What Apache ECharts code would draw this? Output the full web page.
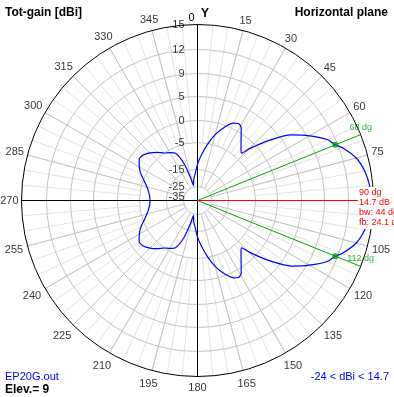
<!DOCTYPE html>
<html><head><meta charset="utf-8">
<script src="https://cdn.jsdelivr.net/npm/echarts@6/dist/echarts.min.js"></script>
<style>html,body{margin:0;padding:0;background:#fff}#c{width:394px;height:397px}</style>
</head><body><div id="c"></div>
<script>
// ---- data ----
const patternAngles = [0,5,10,15,20,25,28,31,35,40,43,45,50,55,60,65,68,70,75,80,85,90,
  95,100,105,110,112,115,120,125,130,135,137,140,145,149,152,155,160,165,170,175,180,
  185,190,195,197,200,205,210,215,220,225,230,235,240,245,250,255,260,265,270,
  275,280,285,290,295,300,305,310,315,320,325,330,335,340,343,345,350,355,360];
const patternGains = [-13,-9.5,-5.5,-2.7,-0.5,1.1,1.5,1.0,-0.9,-2.8,-3.5,-1.6,2.8,6.8,9.3,11.1,11.7,12.4,13.6,14.25,14.6,14.7,
  14.6,14.25,13.6,12.4,11.7,11.1,9.3,6.8,2.8,-1.6,-3.5,-2.8,-0.9,1.0,1.5,1.1,-0.5,-2.7,-5.5,-9.5,-13,
  -17.5,-20.5,-24,-19,-12,-7.2,-6.0,-5.0,-3.9,-2.9,-2.1,-2.0,-2.9,-4.0,-5.5,-7.1,-8.1,-8.7,-8.9,
  -8.7,-8.1,-7.1,-5.5,-4.0,-2.9,-2.0,-2.1,-2.9,-3.9,-5.0,-6.0,-7.2,-12,-19,-24,-20.5,-17.5,-13];
const ringTicks = [15,12,9,5,0,-5,-15,-25,-35];
const angleTicks = [0,15,30,45,60,75,90,105,120,135,150,165,180,195,210,225,240,255,270,285,300,315,330,345];
const bwAngles = [68,112];
const peakAngle = 90, peakGain = 14.7, beamWidth = 44, frontBack = 24.1, minGain = -24, halfPowerGain = 11.7;
const fileName = 'EP20G.out', elevation = 9;

// ---- radial scale of the plot (dB -> radius units) ----
const ringRadius = [176,151,127,104,80,58,31,14,4];
function toR(db){
  if (db >= ringTicks[0]) return ringRadius[0];
  for (let i=0;i<ringTicks.length-1;i++){
    const a=ringTicks[i], b=ringTicks[i+1];
    if (db<=a && db>=b){ const t=(a-db)/(a-b); return ringRadius[i]+(ringRadius[i+1]-ringRadius[i])*t; }
  }
  return ringRadius[ringRadius.length-1];
}
const R = 176, CX = 197.5, CY = 200.5;
const FONT = 'Liberation Sans, Arial, sans-serif';

function labelRadius(a){
  const txt=String(a), w=6.1*txt.length, h=11, rad=a*Math.PI/180, c=Math.cos(rad);
  return 179 + (w/2)*Math.abs(Math.sin(rad)) + (h/2)*Math.abs(c) + (c<0 ? 3*(-c) : 0);
}

const hideAxis = {show:false};
const noOverlap = {hideOverlap:false, moveOverlap:null};
const rimTicks = angleTicks.filter(a=>a!==peakAngle && a!==0);
const chart = echarts.init(document.getElementById('c'), null, {renderer:'canvas'});
chart.setOption({
  animation:false,
  backgroundColor:'#fff',
  polar:[
    {center:[CX,CY], radius:[58,R]},
    {center:[CX,CY], radius:[14,R]},
    {center:[CX,CY], radius:[0,R]}
  ],
  angleAxis:[
    {polarIndex:0, type:'value', min:0, max:360, interval:5, startAngle:90, clockwise:true, z:0,
     axisLine:hideAxis, axisTick:hideAxis, axisLabel:hideAxis,
     splitLine:{show:true, lineStyle:{color:'#e3e3e3', width:1}}},
    {polarIndex:1, type:'value', min:0, max:360, interval:15, startAngle:90, clockwise:true, z:1,
     axisLine:hideAxis, axisTick:hideAxis, axisLabel:hideAxis,
     splitLine:{show:true, lineStyle:{color:'#c4c4c4', width:1}}},
    {polarIndex:2, type:'value', min:0, max:360, interval:90, startAngle:90, clockwise:true, z:3,
     axisLine:{show:true, lineStyle:{color:'#000', width:1}}, axisTick:hideAxis, axisLabel:hideAxis,
     splitLine:{show:true, lineStyle:{color:'#000', width:1}}}
  ],
  radiusAxis:[
    {polarIndex:0, type:'value', min:0, max:1, show:false},
    {polarIndex:1, type:'value', min:0, max:1, show:false},
    {polarIndex:2, type:'value', min:0, max:R, z:2,
     axisLine:{show:false}, axisLabel:{show:false},
     axisTick:{show:false, customValues: ringTicks.filter(t=>t<ringTicks[0] && t>ringTicks[ringTicks.length-1]).map(toR)},
     splitLine:{show:true, lineStyle:{color:'#c4c4c4', width:1}}}
  ],
  series:[
    {type:'line', coordinateSystem:'polar', polarIndex:2, z:5, symbol:'none', smooth:0.25,
     lineStyle:{color:'#0000ff', width:1.2},
     data: patternAngles.map((a,i)=>[toR(patternGains[i]), a])},
    ...bwAngles.map(a=>({type:'line', coordinateSystem:'polar', polarIndex:2, z:4, symbol:'none',
     lineStyle:{color:'#00a000', width:1}, data:[[0,a],[R,a]]})),
    {type:'line', coordinateSystem:'polar', polarIndex:2, z:4, symbol:'none',
     lineStyle:{color:'#ff0000', width:1}, data:[[0,peakAngle],[R,peakAngle]]},
    {type:'scatter', coordinateSystem:'polar', polarIndex:2, z:6, symbolSize:6,
     itemStyle:{color:'#00a000'}, data: bwAngles.map(a=>[toR(halfPowerGain), a])},
    {type:'scatter', coordinateSystem:'polar', polarIndex:2, z:6, symbolSize:0, clip:false, silent:true,
     itemStyle:{color:'transparent'}, labelLayout:noOverlap,
     label:{show:true, position:'top', distance:3, offset:[-4,0], color:'#00a000', fontSize:9, fontFamily:FONT,
       formatter:p=>p.value[1]+' dg'},
     data: bwAngles.map(a=>[R, a])},
    // radial (dB) tick labels along the 0-degree axis
    {type:'scatter', coordinateSystem:'polar', polarIndex:2, z:6, symbolSize:0, clip:false, silent:true,
     itemStyle:{color:'transparent'}, labelLayout:noOverlap,
     label:{show:true, position:'left', distance:13, color:'#000', fontSize:11, fontFamily:FONT,
       formatter:p=>String(ringTicks[p.dataIndex])},
     data: ringTicks.map(t=>[toR(t), 0])},
    // angle tick labels around the rim
    {type:'scatter', coordinateSystem:'polar', polarIndex:2, z:6, symbolSize:0, clip:false, silent:true,
     itemStyle:{color:'transparent'}, labelLayout:noOverlap,
     label:{show:true, position:'inside', offset:[0,2], color:'#000', fontSize:11, fontFamily:FONT,
       formatter:p=>String(rimTicks[p.dataIndex])},
     data: rimTicks.map(a=>[labelRadius(a), a])}
  ],
  graphic:[
    {type:'text', left:5, top:7, z:100, style:{text:'Tot-gain [dBi]', fill:'#000', font:'bold 12px '+FONT}},
    {type:'text', right:6, top:7, z:100, style:{text:'Horizontal plane', fill:'#000', font:'bold 12px '+FONT}},
    // top (0 degree) tick label sits just left of the vertical axis, next to the "Y" marker
    {type:'text', x:CX-6, y:CY-labelRadius(angleTicks[0])+2, z:100,
     style:{text:String(angleTicks[0]), fill:'#000', font:'11px '+FONT, align:'center', verticalAlign:'middle'}},
    {type:'text', left:201, top:8, z:100, style:{text:'Y', fill:'#000', font:'bold 12px '+FONT}},
    {type:'text', left:358, top:187, z:100, style:{
      text:[peakAngle+' dg', peakGain+' dB', 'bw: '+beamWidth+' dg', 'fb: '+frontBack+' dB'].join('\n'),
      fill:'#ff0000', font:'9px '+FONT, lineHeight:10, backgroundColor:'#fff', padding:[1,1,1,1]}},
    {type:'text', left:5, top:371, z:100, style:{text:fileName, fill:'#0000ff', font:'11px '+FONT}},
    {type:'text', left:5, top:384, z:100, style:{text:'Elev.= '+elevation, fill:'#000', font:'bold 12px '+FONT}},
    {type:'text', right:5, top:371, z:100, style:{text:minGain+' < dBi < '+peakGain, fill:'#0000ff', font:'11px '+FONT}}
  ]
});
</script></body></html>
